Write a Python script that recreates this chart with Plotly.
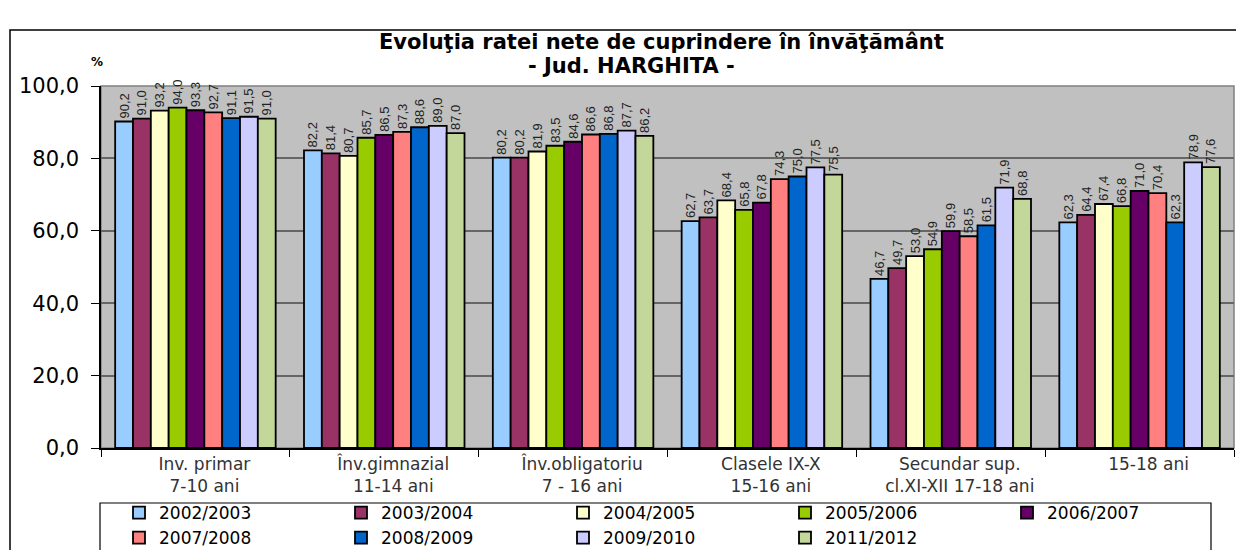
import plotly.graph_objects as go

categories = ["Inv. primar<br>7-10 ani", "Înv.gimnazial<br>11-14 ani", "Înv.obligatoriu<br>7 - 16 ani",
              "Clasele IX-X<br>15-16 ani", "Secundar sup.<br>cl.XI-XII 17-18 ani", "15-18 ani"]
series_names = ["2002/2003", "2003/2004", "2004/2005", "2005/2006", "2006/2007",
                "2007/2008", "2008/2009", "2009/2010", "2011/2012"]
s2002 = [90.2, 82.2, 80.2, 62.7, 46.7, 62.3]
s2003 = [91.0, 81.4, 80.2, 63.7, 49.7, 64.4]
s2004 = [93.2, 80.7, 81.9, 68.4, 53.0, 67.4]
s2005 = [94.0, 85.7, 83.5, 65.8, 54.9, 66.8]
s2006 = [93.3, 86.5, 84.6, 67.8, 59.9, 71.0]
s2007 = [92.7, 87.3, 86.6, 74.3, 58.5, 70.4]
s2008 = [91.1, 88.6, 86.8, 75.0, 61.5, 62.3]
s2009 = [91.5, 89.0, 87.7, 77.5, 71.9, 78.9]
s2011 = [91.0, 87.0, 86.2, 75.5, 68.8, 77.6]
series_values = [s2002, s2003, s2004, s2005, s2006, s2007, s2008, s2009, s2011]
colors = ["#99CCFF", "#993366", "#FFFFCC", "#99CC00", "#660066",
          "#FF8080", "#0066CC", "#CCCCFF", "#C4D79B"]

OFF = 8  # page body margin
W, H = 1244 - OFF, 550 - OFF
L, R, T, B = 101 - OFF, 1234 - OFF, 86 - OFF, 448 - OFF
PW, PH = R - L, B - T


def px(x):
    return (x - OFF - L) / PW


def py(y):
    return (B - (y - OFF)) / PH


fig = go.Figure()
for name, vals, col in zip(series_names, series_values, colors):
    fig.add_trace(go.Bar(
        x=categories, y=vals, name=name,
        marker=dict(color=col, line=dict(color="black", width=1.8)),
        texttemplate="%{y:.1f}", textposition="outside", textangle=-90,
        textfont=dict(family="Arial, Liberation Sans", size=13, color="#222"),
        constraintext="none", cliponaxis=False,
    ))

font_main = "DejaVu Sans, Verdana, sans-serif"

fig.update_layout(
    width=W, height=H,
    margin=dict(l=L, r=W - R, t=T, b=H - B, autoexpand=False),
    paper_bgcolor="white", plot_bgcolor="#C0C0C0",
    separators=",.",
    barmode="group", bargap=0.15, bargroupgap=0,
    showlegend=True,
    legend=dict(orientation="h", x=px(119), y=py(495), xanchor="left", yanchor="top",
                entrywidth=177, entrywidthmode="pixels",
                font=dict(family=font_main, size=17, color="black"),
                bgcolor="rgba(0,0,0,0)", borderwidth=0, tracegroupgap=0,
                itemclick=False),
    xaxis=dict(type="category", showline=True, linecolor="black", linewidth=1.5,
               ticks="outside", tickson="boundaries", ticklen=7, tickcolor="black",
               tickfont=dict(family=font_main, size=17, color="#333"),
               ticklabelshift=9, showgrid=False),
    yaxis=dict(range=[0, 100], dtick=20, tickformat=".1f", showline=True,
               linecolor="black", linewidth=1.5, ticks="outside", ticklen=8,
               tickcolor="black", ticklabelstandoff=8,
               tickfont=dict(family=font_main, size=21, color="black"),
               showgrid=True, gridcolor="#666666", gridwidth=1.5, zeroline=False),
    shapes=[
        dict(type="rect", xref="paper", yref="paper", x0=px(10), x1=px(1240), y0=py(570), y1=py(30),
             line=dict(color="black", width=1.5), layer="below"),
        dict(type="rect", xref="paper", yref="paper", x0=0, x1=1, y0=0, y1=1,
             line=dict(color="#808080", width=1.5), layer="below"),
        dict(type="rect", xref="paper", yref="paper", x0=px(100), x1=px(1211), y0=py(570), y1=py(503),
             line=dict(color="black", width=1.2)),
    ],
    annotations=[
        dict(text="<b>Evoluţia ratei nete de cuprindere în învăţământ</b>", xref="paper", yref="paper",
             x=px(661), y=py(42), xanchor="center", yanchor="middle", showarrow=False,
             font=dict(family=font_main, size=21, color="black")),
        dict(text="<b>- Jud. HARGHITA -</b>", xref="paper", yref="paper",
             x=px(631), y=py(66), xanchor="center", yanchor="middle", showarrow=False,
             font=dict(family=font_main, size=21, color="black")),
        dict(text="<b>%</b>", xref="paper", yref="paper",
             x=px(97), y=py(62), xanchor="center", yanchor="middle", showarrow=False,
             font=dict(family=font_main, size=12, color="black")),
    ],
)

fig.write_html("out.html")
